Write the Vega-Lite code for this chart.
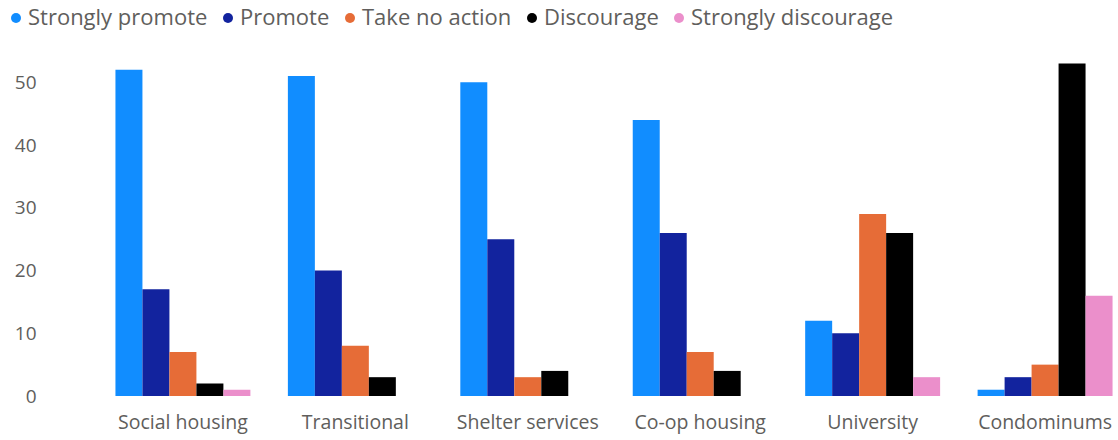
{
  "$schema": "https://vega.github.io/schema/vega-lite/v6.json",
  "autosize": {"type": "none"},
  "padding": {"left": 112, "top": 51, "right": 2, "bottom": 44},
  "width": 1004,
  "height": 345,
  "background": "white",
  "config": {"view": {"stroke": null}, "font": "Open Sans"},
  "data": {"values": [
    {"cat": "Social housing", "series": "Strongly promote", "v": 52},
    {"cat": "Social housing", "series": "Promote", "v": 17},
    {"cat": "Social housing", "series": "Take no action", "v": 7},
    {"cat": "Social housing", "series": "Discourage", "v": 2},
    {"cat": "Social housing", "series": "Strongly discourage", "v": 1},
    {"cat": "Transitional", "series": "Strongly promote", "v": 51},
    {"cat": "Transitional", "series": "Promote", "v": 20},
    {"cat": "Transitional", "series": "Take no action", "v": 8},
    {"cat": "Transitional", "series": "Discourage", "v": 3},
    {"cat": "Transitional", "series": "Strongly discourage", "v": 0},
    {"cat": "Shelter services", "series": "Strongly promote", "v": 50},
    {"cat": "Shelter services", "series": "Promote", "v": 25},
    {"cat": "Shelter services", "series": "Take no action", "v": 3},
    {"cat": "Shelter services", "series": "Discourage", "v": 4},
    {"cat": "Shelter services", "series": "Strongly discourage", "v": 0},
    {"cat": "Co-op housing", "series": "Strongly promote", "v": 44},
    {"cat": "Co-op housing", "series": "Promote", "v": 26},
    {"cat": "Co-op housing", "series": "Take no action", "v": 7},
    {"cat": "Co-op housing", "series": "Discourage", "v": 4},
    {"cat": "Co-op housing", "series": "Strongly discourage", "v": 0},
    {"cat": "University", "series": "Strongly promote", "v": 12},
    {"cat": "University", "series": "Promote", "v": 10},
    {"cat": "University", "series": "Take no action", "v": 29},
    {"cat": "University", "series": "Discourage", "v": 26},
    {"cat": "University", "series": "Strongly discourage", "v": 3},
    {"cat": "Condominums", "series": "Strongly promote", "v": 1},
    {"cat": "Condominums", "series": "Promote", "v": 3},
    {"cat": "Condominums", "series": "Take no action", "v": 5},
    {"cat": "Condominums", "series": "Discourage", "v": 53},
    {"cat": "Condominums", "series": "Strongly discourage", "v": 16}
  ]},
  "mark": {"type": "bar"},
  "encoding": {
    "x": {
      "field": "cat", "type": "nominal", "sort": null,
      "scale": {"paddingInner": 0.2174, "paddingOuter": 0.02},
      "axis": {"title": null, "domain": false, "ticks": false, "labelAngle": 0, "labelFontSize": 19.5, "labelColor": "#605E5C", "labelPadding": 17, "labelFont": "Open Sans", "labelLimit": 0}
    },
    "xOffset": {"field": "series", "type": "nominal", "sort": ["Strongly promote", "Promote", "Take no action", "Discourage", "Strongly discourage"], "scale": {"paddingInner": 0, "paddingOuter": 0}},
    "y": {
      "field": "v", "type": "quantitative",
      "scale": {"domain": [0, 55], "nice": false},
      "axis": {"title": null, "domain": false, "ticks": false, "grid": false, "values": [0, 10, 20, 30, 40, 50], "labelFontSize": 19, "labelColor": "#605E5C", "labelPadding": 76}
    },
    "color": {
      "field": "series", "type": "nominal",
      "scale": {
        "domain": ["Strongly promote", "Promote", "Take no action", "Discourage", "Strongly discourage"],
        "range": ["#118DFF", "#12239E", "#E66C37", "#000000", "#EB8FCB"]
      },
      "legend": {
        "title": null, "orient": "none", "legendX": -107, "legendY": -44, "direction": "horizontal",
        "symbolType": "circle", "symbolSize": 100, "labelFontSize": 22, "labelColor": "#605E5C", "labelOffset": 1, "columnPadding": 9, "labelFont": "Open Sans", "labelLimit": 0
      }
    }
  }
}
